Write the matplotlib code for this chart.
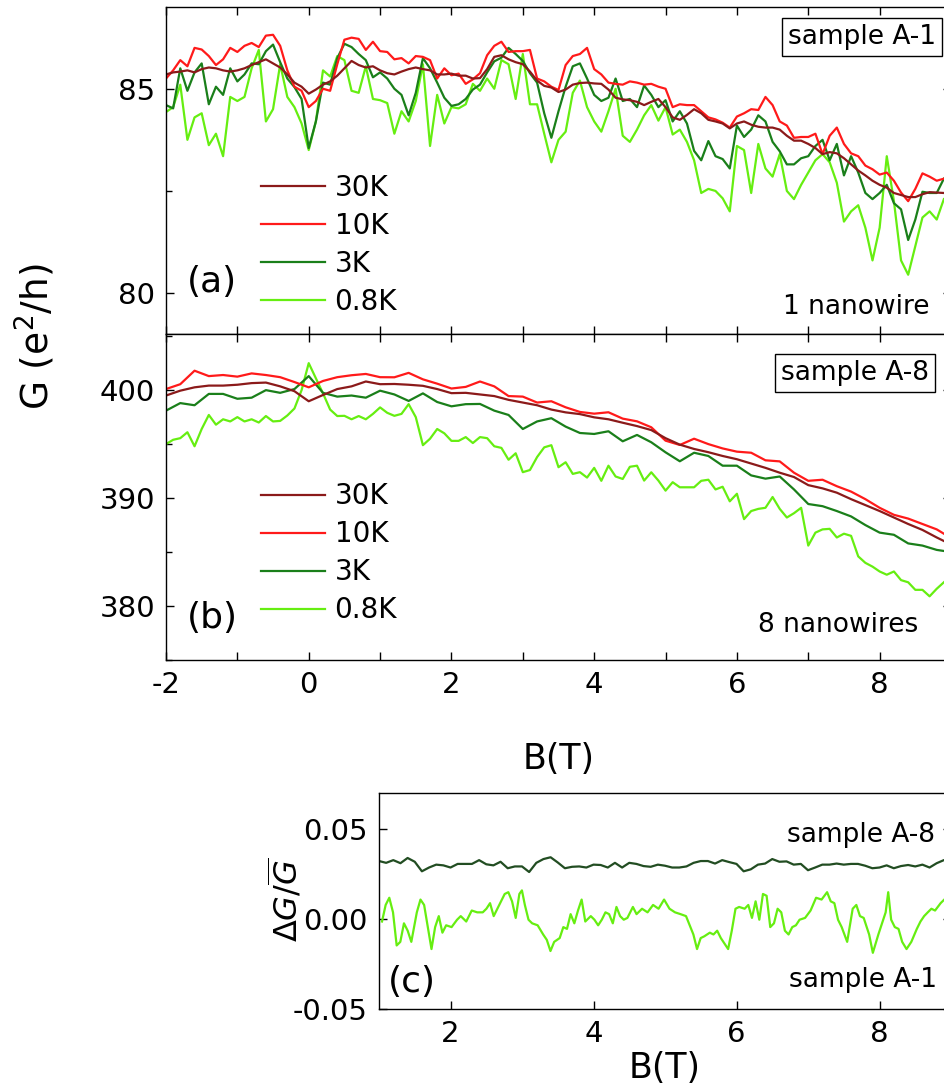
import numpy as np
import matplotlib
matplotlib.use("Agg")
import matplotlib.pyplot as plt
from matplotlib.ticker import MultipleLocator

plt.rcParams['font.family'] = ['DejaVu Sans']
plt.rcParams['axes.unicode_minus'] = False
plt.rcParams['mathtext.fontset'] = 'dejavusans'

# magnetic field grids (T)
B_fine = np.round(np.arange(-2.0, 8.95, 0.1), 2)
B_coarse = np.round(np.arange(-2.0, 9.05, 0.2), 2)

# ---- panel (a): sample A-1, G in e^2/h ----
a_30K = [85.35, 85.40, 85.42, 85.45, 85.40, 85.48, 85.52, 85.50, 85.45, 85.42,
         85.45, 85.50, 85.58, 85.65, 85.72, 85.62, 85.52, 85.35, 85.15, 85.05,
         84.88, 84.98, 85.10, 85.18, 85.32, 85.50, 85.68, 85.58, 85.52, 85.55,
         85.45, 85.38, 85.35, 85.42, 85.48, 85.52, 85.48, 85.45, 85.35, 85.35,
         85.37, 85.32, 85.32, 85.25, 85.26, 85.48, 85.78, 85.82, 85.72, 85.65,
         85.60, 85.42, 85.20, 85.07, 85.03, 84.92, 84.98, 85.10, 85.14, 85.15,
         85.13, 85.12, 84.98, 84.78, 84.74, 84.72, 84.68, 84.60, 84.68, 84.75,
         84.55, 84.30, 84.24, 84.36, 84.50, 84.40, 84.24, 84.20, 84.15, 84.03,
         84.15, 84.20, 84.12, 84.07, 84.05, 84.05, 84.00, 83.85, 83.73, 83.73,
         83.65, 83.55, 83.40, 83.45, 83.42, 83.30, 83.15, 83.00, 82.88, 82.75,
         82.65, 82.58, 82.45, 82.40, 82.35, 82.35, 82.42, 82.47, 82.46, 82.45]
a_10K = [85.25, 85.45, 85.70, 85.55, 86.00, 85.96, 85.80, 85.58, 85.72, 86.00,
         85.90, 86.05, 86.12, 86.02, 86.30, 86.32, 86.05, 85.45, 85.05, 84.95,
         84.55, 84.70, 85.00, 84.95, 85.60, 86.20, 86.25, 86.22, 85.95, 86.15,
         85.92, 85.90, 85.72, 85.75, 85.62, 85.80, 85.78, 85.70, 85.25, 85.50,
         85.33, 85.37, 85.12, 85.23, 85.38, 85.82, 86.05, 86.15, 85.90, 85.92,
         85.92, 85.95, 85.25, 85.18, 85.05, 84.97, 85.58, 85.80, 85.85, 86.00,
         85.48, 85.35, 85.15, 85.12, 85.10, 85.18, 85.15, 85.10, 85.12, 85.05,
         85.00, 84.55, 84.62, 84.60, 84.60, 84.45, 84.30, 84.25, 84.17, 84.05,
         84.32, 84.40, 84.50, 84.48, 84.80, 84.60, 84.20, 84.10, 83.80, 83.82,
         83.82, 83.90, 83.40, 83.85, 84.05, 83.65, 83.42, 83.35, 83.12, 83.03,
         82.90, 82.95, 82.75, 82.46, 82.25, 82.55, 82.93, 82.85, 82.75, 82.80]
a_3K = [84.60, 84.52, 85.50, 84.95, 85.40, 85.62, 84.62, 85.05, 84.85, 85.50,
        85.18, 85.35, 85.62, 85.60, 85.92, 86.08, 85.65, 85.25, 85.04, 84.75,
        83.55, 84.20, 85.15, 85.10, 85.75, 86.10, 86.02, 85.85, 85.70, 85.28,
        85.40, 85.25, 85.00, 84.85, 84.35, 84.90, 85.75, 85.50, 85.15, 84.78,
        84.58, 84.62, 84.75, 84.98, 85.10, 85.40, 85.67, 85.76, 86.00, 85.85,
        85.68, 85.38, 85.15, 84.40, 83.80, 84.45, 85.05, 85.55, 85.62, 85.25,
        84.85, 84.70, 84.78, 85.25, 84.70, 84.75, 84.55, 85.08, 84.85, 84.55,
        84.72, 84.20, 84.45, 84.15, 83.48, 83.25, 83.72, 83.35, 83.28, 83.05,
        84.10, 83.82, 84.00, 84.35, 84.20, 83.70, 83.47, 83.15, 83.15, 83.30,
        83.35, 83.60, 83.75, 83.25, 83.65, 82.88, 83.35, 82.95, 82.45, 82.30,
        82.45, 82.65, 82.20, 82.05, 81.30, 81.80, 82.48, 82.45, 82.45, 82.80]
a_08K = [84.43, 84.55, 85.10, 83.75, 84.30, 84.40, 83.62, 83.90, 83.35, 84.80,
         84.70, 84.80, 85.50, 85.95, 84.20, 84.50, 85.60, 84.80, 84.55, 84.15,
         83.50, 84.20, 85.45, 85.30, 85.80, 85.70, 84.95, 84.90, 85.55, 84.75,
         84.72, 84.65, 83.90, 84.45, 84.20, 84.70, 85.60, 83.60, 84.85, 84.15,
         84.55, 84.52, 84.62, 85.12, 84.95, 85.25, 85.00, 85.70, 85.60, 84.75,
         85.85, 84.62, 84.62, 83.90, 83.20, 83.75, 83.95, 84.90, 85.20, 84.55,
         84.20, 83.95, 84.45, 85.00, 83.85, 83.70, 84.00, 84.35, 84.60, 84.22,
         84.55, 83.88, 84.00, 83.70, 83.25, 82.45, 82.55, 82.50, 82.32, 82.00,
         83.60, 83.50, 82.45, 83.65, 83.05, 82.85, 83.40, 82.50, 82.30, 82.65,
         82.95, 83.25, 83.40, 83.20, 82.70, 81.75, 82.00, 82.15, 81.60, 80.80,
         81.60, 83.35, 82.25, 80.80, 80.45, 81.15, 81.85, 82.00, 81.80, 82.30]

# ---- panel (b): sample A-8 ----
b_30K = [399.50, 399.95, 400.26, 400.42, 400.42, 400.50, 400.65, 400.70, 400.35, 399.90,
         398.97, 399.55, 400.10, 400.35, 400.80, 400.55, 400.57, 400.50, 400.40, 400.10,
         399.72, 399.75, 399.60, 399.45, 399.10, 398.85, 398.60, 398.20, 397.94, 397.78,
         397.48, 397.30, 396.98, 396.67, 396.30, 395.55, 394.95, 394.55, 394.25, 393.90,
         393.60, 393.20, 392.80, 392.35, 391.95, 391.20, 390.90, 390.50, 389.90, 389.35,
         388.80, 388.20, 387.60, 387.05, 386.35, 385.70]
b_10K = [400.10, 400.55, 401.80, 401.30, 401.40, 401.25, 401.55, 401.40, 401.20, 400.75,
         400.26, 400.85, 401.20, 401.38, 401.50, 401.20, 401.19, 401.60, 401.00, 400.60,
         400.15, 400.30, 400.80, 400.35, 399.45, 399.40, 398.85, 398.97, 398.41, 397.98,
         397.82, 397.95, 397.36, 397.11, 396.56, 395.32, 394.92, 395.50, 395.00, 394.60,
         394.30, 394.20, 393.50, 393.40, 392.35, 391.60, 391.70, 391.10, 390.60, 389.90,
         389.10, 388.45, 388.10, 387.60, 387.10, 386.30]
b_3K = [398.10, 398.80, 398.60, 399.65, 399.65, 399.20, 399.30, 400.00, 399.75, 400.10,
        401.30, 399.75, 399.40, 399.50, 399.30, 399.95, 399.60, 399.00, 399.70, 398.90,
        398.50, 398.70, 398.72, 398.10, 397.70, 396.40, 397.10, 397.40, 396.62, 396.03,
        395.94, 396.19, 395.26, 395.85, 395.17, 394.24, 393.41, 394.20, 393.90, 393.00,
        393.00, 392.10, 391.80, 392.00, 390.80, 389.45, 389.25, 388.80, 388.30, 387.50,
        386.80, 386.60, 385.80, 385.60, 385.20, 385.00]
b_08K = [395.00, 395.40, 395.55, 396.10, 394.80, 396.40, 397.70, 396.80, 397.30, 397.10,
         397.50, 397.10, 397.30, 397.00, 397.60, 397.10, 397.15, 397.65, 398.30, 400.00,
         402.50, 401.10, 399.70, 398.20, 397.60, 397.62, 397.30, 397.60, 397.30, 397.80,
         398.40, 397.90, 397.62, 397.80, 398.70, 397.50, 394.90, 395.50, 396.40, 396.00,
         395.30, 395.30, 395.65, 395.10, 395.65, 395.55, 394.80, 394.65, 393.55, 394.15,
         392.40, 392.60, 393.80, 394.70, 394.90, 392.86, 393.32, 392.24, 392.40, 391.90,
         392.80, 391.60, 393.00, 392.00, 391.77, 392.90, 393.00, 391.62, 392.39, 391.62,
         390.69, 391.47, 391.00, 391.00, 391.00, 391.60, 391.70, 390.80, 391.05, 389.70,
         390.40, 388.05, 388.80, 389.00, 389.10, 390.10, 389.00, 388.20, 388.60, 389.10,
         385.60, 386.80, 387.10, 387.15, 386.35, 386.70, 386.50, 384.60, 384.00, 383.65,
         383.20, 382.90, 383.20, 382.40, 382.20, 381.50, 381.50, 380.90, 381.60, 382.20]

# ---- panel (c): relative fluctuations dG/G ----
B_c8 = np.round(np.arange(1.0, 9.05, 0.1), 2)
c_A8 = [0.0322, 0.0312, 0.0327, 0.0310, 0.0339, 0.0318, 0.0265, 0.0286, 0.0302, 0.0298,
        0.0286, 0.0306, 0.0306, 0.0306, 0.0327, 0.0304, 0.0298, 0.0318, 0.0282, 0.0292,
        0.0292, 0.0261, 0.0312, 0.0333, 0.0343, 0.0314, 0.0282, 0.0290, 0.0292, 0.0286,
        0.0302, 0.0300, 0.0286, 0.0312, 0.0286, 0.0312, 0.0306, 0.0294, 0.0290, 0.0302,
        0.0296, 0.0286, 0.0286, 0.0292, 0.0312, 0.0322, 0.0322, 0.0308, 0.0327, 0.0316,
        0.0306, 0.0265, 0.0276, 0.0302, 0.0308, 0.0333, 0.0318, 0.0320, 0.0302, 0.0306,
        0.0271, 0.0286, 0.0302, 0.0302, 0.0308, 0.0302, 0.0306, 0.0306, 0.0296, 0.0282,
        0.0286, 0.0298, 0.0282, 0.0294, 0.0300, 0.0292, 0.0302, 0.0286, 0.0310, 0.0327,
        0.0330]

B_c1 = [1.042, 1.093, 1.144, 1.196, 1.247, 1.298, 1.349, 1.401, 1.452, 1.529,
        1.580, 1.631, 1.682, 1.734, 1.785, 1.836, 1.887, 1.939, 2.015, 2.092,
        2.143, 2.220, 2.297, 2.374, 2.451, 2.502, 2.553, 2.604, 2.681, 2.758,
        2.809, 2.861, 2.912, 2.963, 2.999, 3.040, 3.091, 3.142, 3.219, 3.296,
        3.347, 3.398, 3.450, 3.527, 3.578, 3.629, 3.680, 3.732, 3.783, 3.834,
        3.885, 3.962, 4.013, 4.065, 4.116, 4.167, 4.218, 4.270, 4.321, 4.372,
        4.423, 4.474, 4.551, 4.602, 4.679, 4.756, 4.833, 4.910, 4.987, 5.063,
        5.140, 5.217, 5.294, 5.345, 5.397, 5.448, 5.499, 5.550, 5.627, 5.678,
        5.730, 5.781, 5.832, 5.883, 5.934, 5.986, 6.037, 6.114, 6.165, 6.216,
        6.267, 6.319, 6.370, 6.421, 6.472, 6.524, 6.575, 6.626, 6.677, 6.728,
        6.780, 6.831, 6.882, 6.959, 7.036, 7.113, 7.190, 7.267, 7.318, 7.369,
        7.420, 7.471, 7.548, 7.625, 7.676, 7.727, 7.779, 7.855, 7.907, 7.984,
        8.035, 8.086, 8.122, 8.163, 8.214, 8.266, 8.317, 8.378, 8.445, 8.522,
        8.573, 8.624, 8.675, 8.726, 8.777, 8.855, 8.906]
c_A1 = [-0.0014, 0.0078, 0.0118, 0.0037, -0.0147, -0.0127, -0.0024, -0.0065, -0.0127, 0.0037,
        0.0108, 0.0078, -0.0045, -0.0167, -0.0045, 0.0016, -0.0076, -0.0035, -0.0045, -0.0004,
        0.0016, -0.0014, 0.0047, 0.0037, 0.0037, 0.0057, 0.0088, 0.0016, 0.0078, 0.0139,
        0.0149, 0.0098, 0.0006, 0.0139, 0.0159, 0.0078, -0.0004, -0.0024, -0.0035, -0.0086,
        -0.0116, -0.0178, -0.0127, -0.0106, -0.0045, -0.0055, 0.0027, -0.0024, 0.0047, 0.0108,
        -0.0014, 0.0016, -0.0004, -0.0035, -0.0004, 0.0037, 0.0027, -0.0024, 0.0067, 0.0016,
        -0.0004, 0.0006, 0.0067, 0.0027, 0.0057, 0.0037, 0.0078, 0.0057, 0.0108, 0.0057,
        0.0037, 0.0027, 0.0016, -0.0035, -0.0086, -0.0167, -0.0106, -0.0096, -0.0076, -0.0086,
        -0.0065, -0.0106, -0.0137, -0.0167, -0.0065, 0.0057, 0.0067, 0.0057, 0.0078, 0.0006,
        0.0098, -0.0004, 0.0139, 0.0129, -0.0045, -0.0024, 0.0057, 0.0037, -0.0065, -0.0086,
        -0.0045, -0.0035, -0.0004, 0.0006, 0.0047, 0.0118, 0.0108, 0.0149, 0.0098, 0.0088,
        -0.0004, -0.0045, -0.0127, 0.0057, 0.0078, 0.0016, 0.0006, -0.0086, -0.0188, -0.0086,
        -0.0024, 0.0037, 0.0149, -0.0004, -0.0045, -0.0055, -0.0127, -0.0167, -0.0127, -0.0055,
        -0.0014, 0.0016, 0.0037, 0.0057, 0.0047, 0.0088, 0.0108]

temps = ['30K', '10K', '3K', '0.8K']
colors = {'30K': '#8b1a1a', '10K': '#ff1a1a', '3K': '#1a7f1a', '0.8K': '#66ee11'}


def style_axis(ax):
    ax.tick_params(which='both', direction='in', top=True, right=True,
                   width=1.0, labelsize=21, pad=8)
    ax.tick_params(which='major', length=6)
    ax.tick_params(which='minor', length=4)
    for s in ax.spines.values():
        s.set_linewidth(1.0)


def main():
    fig = plt.figure(figsize=(9.45, 10.87), dpi=100)

    ax_a = fig.add_axes([0.17566, 0.69273, 0.83069, 0.30083])
    ax_b = fig.add_axes([0.17566, 0.39282, 0.83069, 0.29991])
    ax_c = fig.add_axes([0.40106, 0.07176, 0.60529, 0.19871])

    # panel (a)
    data_a = {'30K': a_30K, '10K': a_10K, '3K': a_3K, '0.8K': a_08K}
    lines = {}
    for t in ['0.8K', '3K', '10K', '30K']:
        lines[t], = ax_a.plot(B_fine, data_a[t], color=colors[t], lw=1.6, label=t)
    ax_a.set_xlim(-2, 9)
    ax_a.set_ylim(79, 87)
    ax_a.xaxis.set_major_locator(MultipleLocator(2))
    ax_a.xaxis.set_minor_locator(MultipleLocator(1))
    ax_a.yaxis.set_major_locator(MultipleLocator(5))
    ax_a.yaxis.set_minor_locator(MultipleLocator(2.5))
    style_axis(ax_a)
    ax_a.tick_params(axis='x', which='minor', length=6)
    ax_a.tick_params(labelbottom=False)
    ax_a.legend([lines[t] for t in temps], temps, loc='upper left',
                bbox_to_anchor=(0.121, 0.49), frameon=False, fontsize=20,
                handlelength=2.3, handletextpad=0.35, labelspacing=0.36,
                borderpad=0, borderaxespad=0)
    ax_a.text(0.027, 0.16, '(a)', transform=ax_a.transAxes, fontsize=26,
              ha='left', va='center')
    ax_a.text(0.981, 0.909, 'sample A-1', transform=ax_a.transAxes, fontsize=19,
              ha='right', va='center',
              bbox=dict(boxstyle='square,pad=0.22', fc='white', ec='black', lw=1.0))
    ax_a.text(0.972, 0.083, '1 nanowire', transform=ax_a.transAxes, fontsize=19,
              ha='right', va='center')

    # panel (b)
    data_b = {'30K': b_30K, '10K': b_10K, '3K': b_3K}
    lines_b = {}
    lines_b['0.8K'], = ax_b.plot(B_fine, b_08K, color=colors['0.8K'], lw=1.6)
    for t in ['3K', '10K', '30K']:
        lines_b[t], = ax_b.plot(B_coarse, data_b[t], color=colors[t], lw=1.6)
    ax_b.set_xlim(-2, 9)
    ax_b.set_ylim(375, 405.2)
    ax_b.xaxis.set_major_locator(MultipleLocator(2))
    ax_b.xaxis.set_minor_locator(MultipleLocator(1))
    ax_b.yaxis.set_major_locator(MultipleLocator(10))
    ax_b.yaxis.set_minor_locator(MultipleLocator(5))
    style_axis(ax_b)
    ax_b.tick_params(axis='x', which='minor', length=6)
    ax_b.set_xlabel('B(T)', fontsize=25, labelpad=31)
    ax_b.legend([lines_b[t] for t in temps], temps, loc='upper left',
                bbox_to_anchor=(0.121, 0.545), frameon=False, fontsize=20,
                handlelength=2.3, handletextpad=0.35, labelspacing=0.36,
                borderpad=0, borderaxespad=0)
    ax_b.text(0.027, 0.13, '(b)', transform=ax_b.transAxes, fontsize=26,
              ha='left', va='center')
    ax_b.text(0.972, 0.880, 'sample A-8', transform=ax_b.transAxes, fontsize=19,
              ha='right', va='center',
              bbox=dict(boxstyle='square,pad=0.22', fc='white', ec='black', lw=1.0))
    ax_b.text(0.958, 0.107, '8 nanowires', transform=ax_b.transAxes, fontsize=19,
              ha='right', va='center')

    fig.text(0.037, 0.69, 'G (e$^2$/h)', rotation=90, fontsize=27,
             ha='center', va='center')

    # panel (c)
    ax_c.plot(B_c8, c_A8, color='#224d22', lw=1.6)
    ax_c.plot(B_c1, c_A1, color='#66ee11', lw=1.6)
    ax_c.set_xlim(1, 9)
    ax_c.set_ylim(-0.05, 0.07)
    ax_c.set_xticks([2, 4, 6, 8])
    ax_c.set_yticks([-0.05, 0.0, 0.05])
    ax_c.set_yticklabels(['-0.05', '0.00', '0.05'])
    style_axis(ax_c)
    ax_c.tick_params(top=False)
    ax_c.set_xlabel('B(T)', fontsize=25, labelpad=2)
    ax_c.text(0.016, 0.125, '(c)', transform=ax_c.transAxes, fontsize=26,
              ha='left', va='center')
    ax_c.text(0.972, 0.806, 'sample A-8', transform=ax_c.transAxes, fontsize=19,
              ha='right', va='center')
    ax_c.text(0.975, 0.134, 'sample A-1', transform=ax_c.transAxes, fontsize=19,
              ha='right', va='center')
    fig.text(0.302, 0.172, r'$\Delta G/\overline{G}$', rotation=90, fontsize=23,
             ha='center', va='center')

    fig.savefig('out.png', dpi=100)
    plt.close(fig)


if __name__ == "__main__":
    main()
